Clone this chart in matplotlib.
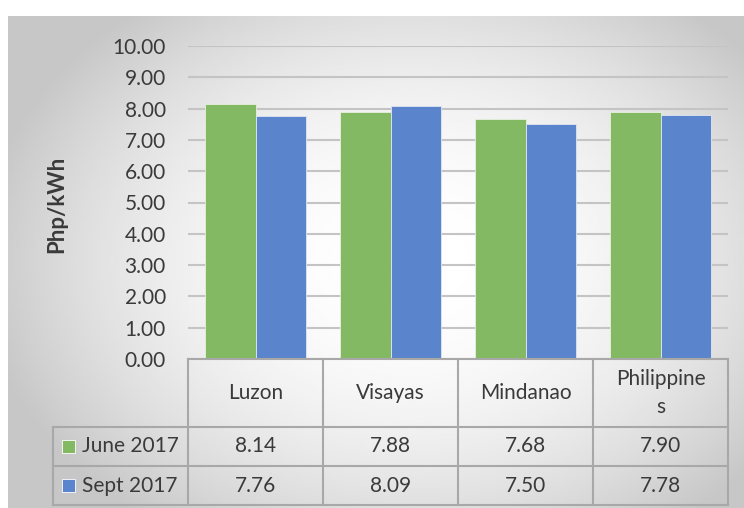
import numpy as np
import matplotlib.pyplot as plt
from matplotlib.patches import Rectangle

plt.rcParams['font.family'] = ['Lato', 'DejaVu Sans']

# data
categories = ["Luzon", "Visayas", "Mindanao", "Philippines"]
series_names = ["June 2017", "Sept 2017"]
june_2017 = [8.14, 7.88, 7.68, 7.90]
sept_2017 = [7.76, 8.09, 7.50, 7.78]
yticks = [0, 1, 2, 3, 4, 5, 6, 7, 8, 9, 10]

colors = ["#83b962", "#5a84cb"]
text_col = "#3a3a3a"
line_col = "#a8a8a8"

W, H = 744, 508
fig = plt.figure(figsize=(W / 100, H / 100), dpi=100)


def px_rect(x0, y0, x1, y1):
    # pixel box (top-left origin) -> figure fraction
    return [x0 / W, 1 - y1 / H, (x1 - x0) / W, (y1 - y0) / H]


# radial grey background of the chart area
bg = fig.add_axes(px_rect(8, 16, 744, 508))
bg.axis("off")
gx, gy = np.meshgrid(np.linspace(0, 1, 300), np.linspace(0, 1, 200))
r = np.sqrt(((gx - 0.55) / 0.55) ** 2 + ((gy - 0.5) / 0.62) ** 2)
grad = np.clip(1.0 - 0.19 * r ** 2, 0.78, 1.0)
bg.imshow(grad, cmap="gray", vmin=0, vmax=1, aspect="auto",
          extent=[0, 1, 1, 0], interpolation="bilinear")

# bar chart
ax = fig.add_axes(px_rect(188, 46, 728, 359))
ax.patch.set_alpha(0)
x = np.arange(len(categories))
w = 0.375
ax.bar(x - w / 2, june_2017, w, color=colors[0], edgecolor="#e8f0e0", linewidth=0.6, zorder=3)
ax.bar(x + w / 2, sept_2017, w, color=colors[1], edgecolor="#e0e6f2", linewidth=0.6, zorder=3)
ax.set_xlim(-0.5, len(categories) - 0.5)
ax.set_ylim(0, 10)
ax.set_yticks(yticks)
ax.set_yticklabels(["%.2f" % t for t in yticks], fontsize=15, color=text_col)
ax.set_xticks([])
ax.tick_params(axis="y", length=0, pad=16)
for s in ["top", "right", "left"]:
    ax.spines[s].set_visible(False)
ax.spines["bottom"].set_color(line_col)
ax.spines["bottom"].set_linewidth(1.5)
ax.spines["bottom"].set_zorder(4)
ax.yaxis.grid(True, color="#c4c4c4", linewidth=1.5, zorder=0)
ax.set_axisbelow(True)

fig.text(57 / W, 1 - 204 / H, "Php/kWh", rotation=90, ha="center", va="center",
         fontsize=16, fontweight="bold", color=text_col)

# data table below the axis
tax = fig.add_axes(px_rect(53, 359, 728, 506))
tax.axis("off")
tax.set_xlim(-1.5, len(categories) - 0.5)
tax.set_ylim(147, 0)
row_edges = [0, 68, 107, 146]
lk = dict(color=line_col, linewidth=1.5, clip_on=False, solid_capstyle="projecting")
for xv in np.arange(-0.5, len(categories), 1.0):
    tax.plot([xv, xv], [row_edges[0], row_edges[-1]], **lk)
tax.plot([-1.5, -1.5], [row_edges[1], row_edges[-1]], **lk)
for yv in row_edges[1:]:
    tax.plot([-1.5, len(categories) - 0.5], [yv, yv], **lk)

for i, c in enumerate(categories):
    label = c if len(c) <= 10 else c[:10] + "\n" + c[10:]
    tax.text(i, 34, label, ha="center", va="center", fontsize=15,
             color=text_col, linespacing=1.45)

for j, (name, vals) in enumerate(zip(series_names, [june_2017, sept_2017])):
    yc = (row_edges[j + 1] + row_edges[j + 2]) / 2
    tax.add_patch(Rectangle((-1.5 + 9 / 135, yc - 6.5), 13 / 135, 13,
                            facecolor=colors[j], edgecolor="white", linewidth=0.6))
    tax.text(-1.5 + 29 / 135, yc, name, ha="left", va="center", fontsize=15, color=text_col)
    for i, v in enumerate(vals):
        tax.text(i, yc, "%.2f" % v, ha="center", va="center", fontsize=15, color=text_col)

fig.savefig("out.png", dpi=100)
